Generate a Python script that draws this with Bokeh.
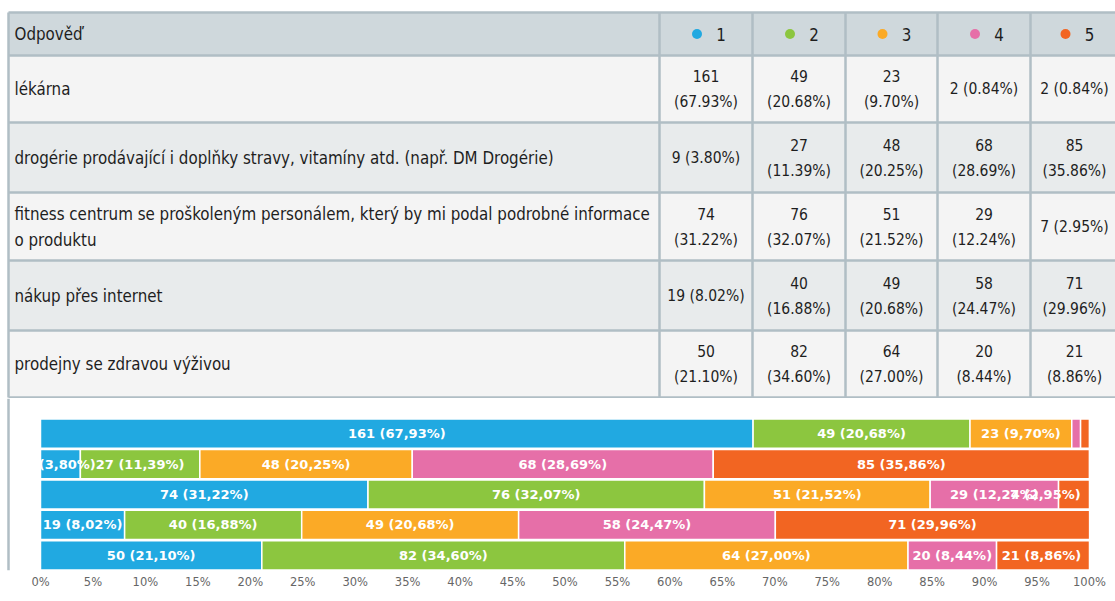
import textwrap
from bokeh.plotting import figure
from bokeh.layouts import column
from bokeh.models import Range1d, FixedTicker, ColumnDataSource
from bokeh.core.properties import value
from bokeh.embed import file_html
from bokeh.resources import INLINE

# ---------------- data ----------------
header_label = "Odpověď"
answers = [
    "lékárna",
    "drogérie prodávající i doplňky stravy, vitamíny atd. (např. DM Drogérie)",
    "fitness centrum se proškoleným personálem, který by mi podal podrobné informace o produktu",
    "nákup přes internet",
    "prodejny se zdravou výživou",
]
scale_points = ["1", "2", "3", "4", "5"]
counts_1 = [161, 9, 74, 19, 50]
counts_2 = [49, 27, 76, 40, 82]
counts_3 = [23, 48, 51, 49, 64]
counts_4 = [2, 68, 29, 58, 20]
counts_5 = [2, 85, 7, 71, 21]
series_colors = ["#21a9e1", "#8cc63f", "#fbaa26", "#e66fa8", "#f26522"]
tick_values = [0, 5, 10, 15, 20, 25, 30, 35, 40, 45, 50, 55, 60, 65, 70, 75, 80, 85, 90, 95, 100]
tick_labels = ["0%", "5%", "10%", "15%", "20%", "25%", "30%", "35%", "40%", "45%", "50%",
               "55%", "60%", "65%", "70%", "75%", "80%", "85%", "90%", "95%", "100%"]

series = [counts_1, counts_2, counts_3, counts_4, counts_5]
n_rows = len(answers)
totals = [sum(s[i] for s in series) for i in range(n_rows)]
pcts = [[round(100.0 * s[i] / totals[i], 2) for i in range(n_rows)] for s in series]

# ---------------- style / layout ----------------
W = 1115
H_TABLE = 398
H_BARS = 203
TBL_FONT = "DejaVu Sans Condensed"
LBL_SIZE = "16.8px"
NUM_SIZE = "15.5px"
NUM_PX = 15.5
TXT = "#1e1e1e"
BORDER = "#b0bec5"
HEAD_BG = "#cfd8dc"
ROW_BG = ["#f4f4f4", "#e8ebec"]

col_edges = [8, 659, 752, 845, 937, 1030, 1118]
row_edges = [12, 55, 122, 192, 260, 330, 397]

t = figure(width=W, height=H_TABLE, x_range=Range1d(0, W), y_range=Range1d(H_TABLE, 0),
           output_backend="svg", toolbar_location=None, x_axis_location=None, y_axis_location=None,
           min_border=0, outline_line_color=None, background_fill_color="white",
           border_fill_color="white")
t.grid.visible = False

# row backgrounds
bg_left, bg_right, bg_top, bg_bot, bg_col = [], [], [], [], []
for r in range(len(row_edges) - 1):
    bg_left.append(col_edges[0]); bg_right.append(W + 10)
    bg_top.append(row_edges[r]); bg_bot.append(row_edges[r + 1])
    bg_col.append(HEAD_BG if r == 0 else ROW_BG[(r - 1) % 2])
t.quad(left=bg_left, right=bg_right, top=bg_top, bottom=bg_bot, fill_color=bg_col, line_color=None)

# borders (last column runs past the page edge)
xs, ys = [], []
for y in row_edges:
    xs.append([col_edges[0], W + 10]); ys.append([y, y])
for x in col_edges[:-1]:
    xs.append([x, x]); ys.append([row_edges[0], row_edges[-1]])
t.multi_line(xs, ys, line_color=BORDER, line_width=2.5)

def tbl_text(x, y, txt, align="left", size=LBL_SIZE):
    t.text(x=x, y=y, text=txt, text_font=value(TBL_FONT), text_font_size=size,
           text_color=TXT, text_align=align, text_baseline="middle")

# header
hy = (row_edges[0] + row_edges[1]) / 2
tbl_text([col_edges[0] + 6], [hy], [header_label])
cc = [(col_edges[j + 1] + col_edges[j + 2]) / 2 for j in range(5)]
cw = [col_edges[j + 2] - col_edges[j + 1] for j in range(5)]
t.scatter(x=[c - 9 for c in cc], y=[hy] * 5, size=10, marker="circle", fill_color=series_colors,
          line_color=None)
tbl_text([c + 15 for c in cc], [hy] * 5, scale_points, align="center")

# char-width estimate (em) to decide wrapping inside a cell
CW = {"1": 0.36, " ": 0.22, ".": 0.22, "(": 0.3, ")": 0.3, "%": 0.75}
def est_px(s):
    return sum(CW.get(ch, 0.5) for ch in s) * NUM_PX
CELL_PAD = 27

LINE = 13
for i in range(n_rows):
    ry = (row_edges[i + 1] + row_edges[i + 2]) / 2
    lines = textwrap.wrap(answers[i], 79)
    if len(lines) == 1:
        tbl_text([col_edges[0] + 6], [ry], lines)
    else:
        tbl_text([col_edges[0] + 6] * 2, [ry - LINE, ry + LINE], lines)
    for j in range(5):
        n = series[j][i]
        p = pcts[j][i]
        full = f"{n} ({p:.2f}%)"
        if est_px(full) + CELL_PAD <= cw[j]:
            tbl_text([cc[j]], [ry], [full], align="center", size=NUM_SIZE)
        else:
            tbl_text([cc[j]] * 2, [ry - LINE, ry + LINE], [f"{n}", f"({p:.2f}%)"],
                     align="center", size=NUM_SIZE)

# ---------------- stacked bar chart ----------------
PX_PER_PCT = 1049 / 100.0
FRAME_LEFT_PX = 40     # page x 0 -> 40 (0%)
FRAME_RIGHT_PX = 26    # 100% at 1089 -> page 1115
x_start = -FRAME_LEFT_PX / PX_PER_PCT
x_end = 100 + FRAME_RIGHT_PX / PX_PER_PCT
BOTTOM_BORDER = 31
ROW_PX = 30.4
TOP_GAP = 20
frame_h = H_BARS - BOTTOM_BORDER
y_top = -TOP_GAP / ROW_PX
y_bot = (frame_h - TOP_GAP) / ROW_PX

b = figure(width=W, height=H_BARS, x_range=Range1d(x_start, x_end), y_range=Range1d(y_bot, y_top),
           output_backend="svg", toolbar_location=None, y_axis_location=None,
           min_border_left=0, min_border_right=0, min_border_top=0, min_border_bottom=BOTTOM_BORDER,
           outline_line_color=None, background_fill_color="white", border_fill_color="white")
b.grid.visible = False

lab_x, lab_y, lab_t = [], [], []
cum = [0.0] * n_rows
for j in range(5):
    left = cum[:]
    right = [left[i] + pcts[j][i] for i in range(n_rows)]
    src = ColumnDataSource(dict(left=left, right=right,
                                top=[i + 0.02 for i in range(n_rows)],
                                bottom=[i + 0.98 for i in range(n_rows)]))
    b.quad(left="left", right="right", top="top", bottom="bottom", source=src,
           fill_color=series_colors[j], line_color="white", line_width=1.5)
    for i in range(n_rows):
        p = pcts[j][i]
        if p >= 2:
            txt = f"{series[j][i]} ({p:.2f}%)".replace(".", ",")
            half = len(txt) * 7.8 / 2 / PX_PER_PCT
            xc = (left[i] + right[i]) / 2
            xc = min(xc, 100 - half - 9 / PX_PER_PCT)
            lab_x.append(xc); lab_y.append(i + 0.5); lab_t.append(txt)
    cum = right

b.text(x=lab_x, y=lab_y, text=lab_t, text_font=value("DejaVu Sans"), text_font_size="13px",
       text_font_style="bold", text_color="white", text_align="center", text_baseline="middle")

# keep the labels inside the plot area
b.quad(left=[x_start + 3 / PX_PER_PCT, 100 + 0.08], right=[0, x_end], top=[y_top, y_top],
       bottom=[y_bot, y_bot], fill_color="white", line_color=None)
# panel left border
bx = x_start + 8 / PX_PER_PCT
b.segment(x0=[bx], x1=[bx], y0=[y_top], y1=[y_bot], line_color=BORDER, line_width=2.5)

ax = b.xaxis[0]
ax.ticker = FixedTicker(ticks=tick_values)
ax.major_label_overrides = {v: l for v, l in zip(tick_values, tick_labels)}
ax.axis_line_color = None
ax.major_tick_line_color = None
ax.minor_tick_line_color = None
ax.major_label_text_font = "DejaVu Sans"
ax.major_label_text_font_size = "11.5px"
ax.major_label_text_color = "#666666"
ax.major_label_standoff = -2

layout = column(t, b, spacing=0)
open("out.html", "w").write(file_html(layout, INLINE))
